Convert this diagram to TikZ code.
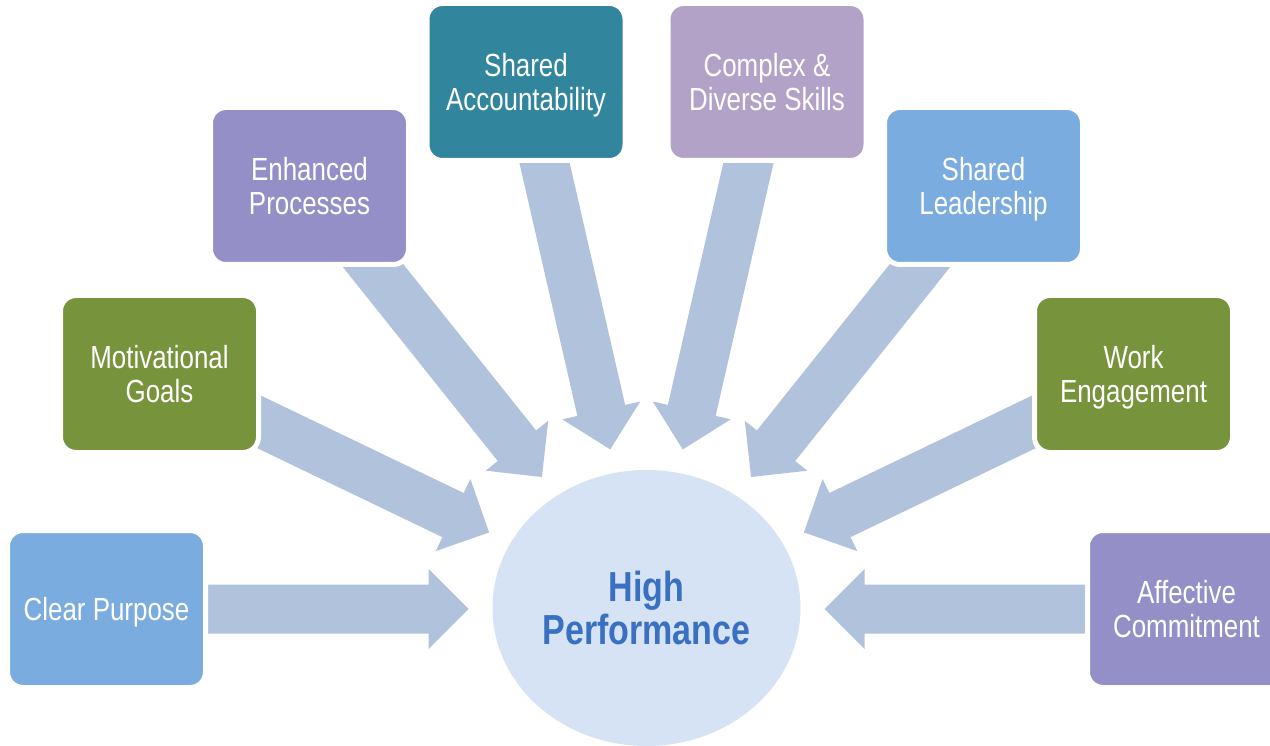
\documentclass[tikz,border=0pt]{standalone}
\usepackage{fontspec}
\setmainfont{Liberation Sans}[FakeStretch=0.81]
\usetikzlibrary{calc,shapes.geometric}

\definecolor{skyblue}{HTML}{7BACDF}
\definecolor{leafgreen}{HTML}{77933C}
\definecolor{lavender}{HTML}{9490C7}
\definecolor{petrol}{HTML}{31859C}
\definecolor{lilac}{HTML}{B3A2C7}
\definecolor{arrowblue}{HTML}{B1C2DD}
\definecolor{cloud}{HTML}{D5E3F4}
\definecolor{deepblue}{HTML}{3A70C2}

\pgfdeclarelayer{back}
\pgfsetlayers{back,main}

\begin{document}
\begin{tikzpicture}[x=1pt,y=-1pt]
    \tikzstyle{box}=[rectangle, rounded corners=15.5pt, draw=white, line width=5pt,
                     minimum width=198pt, minimum height=157pt, inner sep=0pt,
                     text depth=0pt, align=center, text=white,
                     font=\fontsize{32}{34}\selectfont]
    \tikzstyle{fatarrow}=[fill=arrowblue]

    \useasboundingbox (0,0) rectangle (1270,746);

    % centre
    \node[ellipse, fill=cloud, minimum width=308pt, minimum height=276pt,
          inner sep=0pt, align=center, text=deepblue,
          font=\bfseries\fontsize{42}{43}\selectfont] (hp) at (646.5,608) {High\\Performance};

    % left side
    \node[box, fill=skyblue]   (cp) at (106.5,609) {Clear Purpose};
    \node[box, fill=leafgreen] (mg) at (159.5,374) {Motivational\\Goals};
    \node[box, fill=lavender]  (ep) at (309.5,186) {Enhanced\\Processes};
    \node[box, fill=petrol]    (sa) at (526,82)    {Shared\\Accountability};
    % right side
    \node[box, fill=lilac]     (cd) at (767,82)     {Complex \&\\Diverse Skills};
    \node[box, fill=skyblue]   (sl) at (983.5,186)  {Shared\\Leadership};
    \node[box, fill=leafgreen] (we) at (1133.5,374) {Work\\Engagement};
    \node[box, fill=lavender]  (ac) at (1186.5,609) {Affective\\Commitment};

    % arrow tips, just short of the ellipse
    \coordinate (cp-tip) at (468.5,609);
    \coordinate (mg-tip) at (489.1,532.4);
    \coordinate (ep-tip) at (541.9,477);
    \coordinate (sa-tip) at (610.2,449.4);
    \coordinate (cd-tip) at (682.8,449.4);
    \coordinate (sl-tip) at (751.1,477);
    \coordinate (we-tip) at (803.9,532.4);
    \coordinate (ac-tip) at (824.5,609);

    % block arrows go under the boxes
    \begin{pgfonlayer}{back}
    \fill[white] (0,0) rectangle (1270,746);
    \foreach \src in {cp,mg,ep,sa,cd,sl,we,ac}{
        \coordinate (neck) at ($(\src-tip)!40pt!(\src)$);
        \fill[fatarrow] ($(\src)!24.5pt!90:(\src-tip)$) -- ($(neck)!24.5pt!90:(\src-tip)$)
            -- ($(neck)!40pt!90:(\src-tip)$) -- (\src-tip)
            -- ($(neck)!40pt!-90:(\src-tip)$) -- ($(neck)!24.5pt!-90:(\src-tip)$)
            -- ($(\src)!24.5pt!-90:(\src-tip)$) -- cycle;
    }
    \end{pgfonlayer}
\end{tikzpicture}
\end{document}
